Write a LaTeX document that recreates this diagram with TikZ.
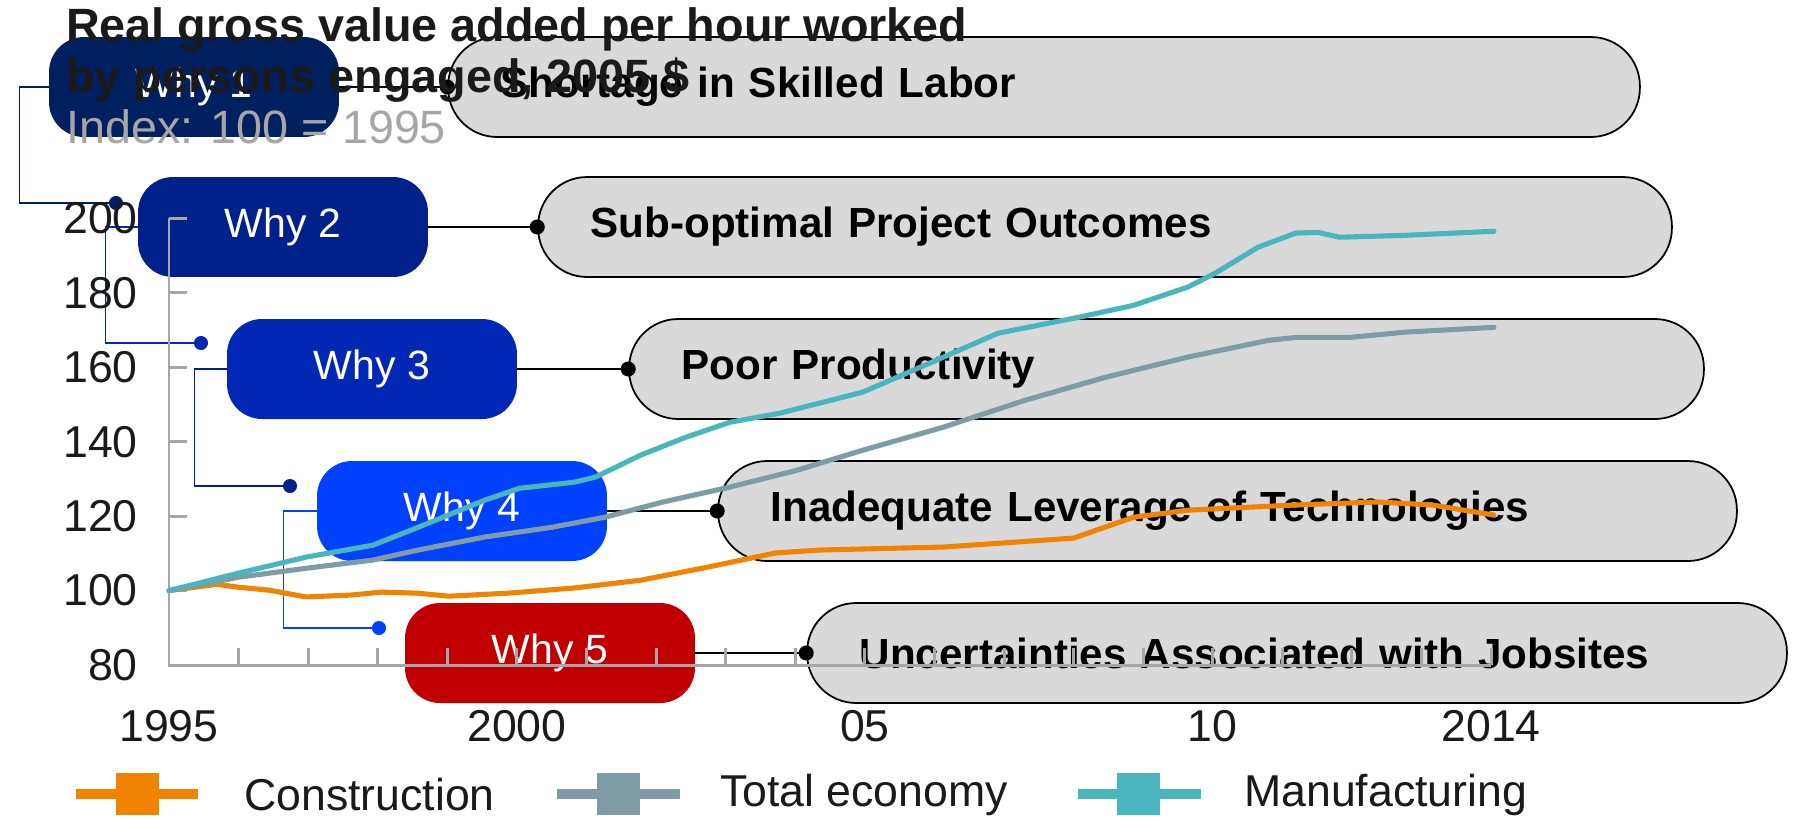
\documentclass[tikz,border=0pt]{standalone}
\usepackage{fontspec}
\setmainfont{Liberation Sans}
\usepackage{tikz}
\usetikzlibrary{arrows.meta}
\definecolor{WhyOne}{HTML}{002060}
\definecolor{WhyTwo}{HTML}{00208A}
\definecolor{WhyThree}{HTML}{0028B4}
\definecolor{WhyFour}{HTML}{0040FF}
\definecolor{WhyFive}{HTML}{C00000}
\definecolor{CauseGray}{HTML}{D9D9D9}
\definecolor{AxisGray}{HTML}{A6A6A6}
\definecolor{InkGray}{HTML}{1A1A1A}
\definecolor{ConstrOrange}{HTML}{F08300}
\definecolor{EconGray}{HTML}{7F9CA6}
\definecolor{ManufTeal}{HTML}{4BB5BD}

\begin{document}
\begin{tikzpicture}[x=0.02cm,y=-0.02cm,
   why/.style={rounded corners=0.7cm,minimum width=5.8cm,minimum height=2cm,
     inner sep=0pt,text=white,font=\fontsize{23.3}{28}\selectfont},
   cause/.style={draw=black,line width=1pt,fill=CauseGray,rounded corners=0.98cm,
     minimum height=2cm,inner xsep=1.05cm,inner ysep=0pt,align=left,
     font=\bfseries\fontsize{24}{29}\selectfont},
   link/.style={line width=1pt,-{Circle[length=0.3cm]},shorten >=-0.15cm},
   elbow/.style={line width=0.8pt,-{Circle[length=0.28cm]},shorten >=-0.14cm},
   axis/.style={AxisGray,line width=1.7pt},
   lbl/.style={text=InkGray,font=\fontsize{25.4}{30}\selectfont},
   series/.style={line width=2.9pt,line join=round,line cap=round}]
   \useasboundingbox (0,0) rectangle (1795,819);

   % why boxes and causes
   \node[why,fill=WhyOne]   (w1) at (194,87)  {Why 1};
   \node[why,fill=WhyTwo]   (w2) at (283,227) {Why 2};
   \node[why,fill=WhyThree] (w3) at (372,369) {Why 3};
   \node[why,fill=WhyFour]  (w4) at (462,511) {Why 4};
   \node[why,fill=WhyFive]  (w5) at (550,653) {Why 5};
   \node[cause,text width=21.74cm] (p1) at (1044,87)   {Shortage in Skilled Labor};
   \node[cause,text width=20.58cm] (p2) at (1105,227)  {Sub-optimal Project Outcomes};
   \node[cause,text width=19.4cm]  (p3) at (1166.5,369) {Poor Productivity};
   \node[cause,text width=18.28cm] (p4) at (1227.5,511) {Inadequate Leverage of Technologies};
   \node[cause,text width=17.5cm]  (p5) at (1297,653)  {Uncertainties Associated with Jobsites};
   \draw[link] (w1.east) -- (p1.west);
   \draw[link] (w2.east) -- (p2.west);
   \draw[link] (w3.east) -- (p3.west);
   \draw[link] (w4.east) -- (p4.west);
   \draw[link] (w5.east) -- (p5.west);

   % elbow connectors
   \coordinate (d2) at (116,203);
   \coordinate (d3) at (201,343);
   \coordinate (d4) at (290,486);
   \coordinate (d5) at (379,628);
   \draw[elbow,WhyOne]   (w1.west) -- ++(-29,0) |- (d2);
   \draw[elbow,WhyThree] (w2.west) -- ++(-32,0) |- (d3);
   \draw[elbow,WhyTwo]   (w3.west) -- ++(-32,0) |- (d4);
   \draw[elbow,WhyFour]  (w4.west) -- ++(-33,0) |- (d5);

   % chart, years from 1995 against index
   \begin{scope}[shift={(169,963)},x=1.392cm,y=0.0745cm]
     \draw[axis] (0,200) -- (0,80) -- (19,80);
     \foreach \v in {100,120,...,200}
       \draw[axis] (0,\v) -- ++(0.36cm,0pt);
     \foreach \t in {1,...,19}
       \draw[axis] (\t,80) -- ++(0pt,0.34cm);
     \foreach \v in {80,100,...,200}
       \node[lbl,anchor=east,xshift=-0.5cm] (y\v) at (0,\v) {\v};
     \node[lbl,yshift=-1.22cm] (x0)  at (0,80)  {1995};
     \node[lbl,yshift=-1.22cm] (x5)  at (5,80)  {2000};
     \node[lbl,yshift=-1.22cm] (x10) at (10,80) {05};
     \node[lbl,yshift=-1.22cm] (x15) at (15,80) {10};
     \node[lbl,yshift=-1.22cm] (x19) at (19,80) {2014};
     \draw[series,ConstrOrange] (0,100) -- (0.69,101.7) -- (1,100.9) -- (1.45,100.1)
       -- (1.97,98.3) -- (2.61,98.8) -- (3.06,99.6) -- (3.58,99.3) -- (4.02,98.5)
       -- (4.86,99.3) -- (5.82,100.7) -- (6.78,102.8) -- (7.74,106.3) -- (8.71,110.1)
       -- (9.35,110.9) -- (11.13,111.7) -- (13,114.1) -- (13.86,119.7) -- (14.64,121.6)
       -- (16.19,123) -- (17.37,123.8) -- (18.15,123) -- (19.04,120.3);
     \draw[series,EconGray] (0,100) -- (1,103.6) -- (1.97,106) -- (2.93,108.2)
       -- (3.58,110.9) -- (4.54,114.4) -- (5.5,117) -- (6.26,119.7) -- (7.1,123.8)
       -- (8.06,127.8) -- (9.02,132.3) -- (9.97,137.7) -- (11.13,143.9) -- (12.3,151.1)
       -- (13.46,157.3) -- (14.64,162.7) -- (15.8,167.2) -- (16.19,168) -- (16.97,168)
       -- (17.76,169.4) -- (19.04,170.7);
     \draw[series,ManufTeal] (0,100) -- (1,104.7) -- (1.97,109) -- (2.93,112.2)
       -- (3.58,117) -- (4.54,124.3) -- (5.04,127.5) -- (5.82,129.1) -- (6.13,130.5)
       -- (6.78,136.4) -- (7.43,141.2) -- (8.06,145.2) -- (8.79,147.7) -- (9.97,153.3)
       -- (11.13,162.7) -- (11.91,169.1) -- (13.07,173.4) -- (13.86,176.6)
       -- (14.64,181.5) -- (15.03,185.2) -- (15.65,192.2) -- (16.19,196) -- (16.51,196.2)
       -- (16.82,194.9) -- (17.76,195.4) -- (19.04,196.5);
   \end{scope}

   % title
   \node[anchor=base west,text=InkGray,font=\bfseries\fontsize{26.6}{30}\selectfont]
     (t1) at (60,41) {Real gross value added per hour worked};
   \node[anchor=base west,text=InkGray,font=\bfseries\fontsize{26.6}{30}\selectfont]
     (t2) at (60,92) {by persons engaged, 2005 \$};
   \node[anchor=base west,text=AxisGray,font=\fontsize{26.6}{30}\selectfont]
     (t3) at (60,143) {Index: 100 = 1995};

   % legend
   \draw[ConstrOrange,line width=0.2cm] (76,794) -- (198,794);
   \fill[ConstrOrange] (116,773) rectangle (159,815);
   \node[lbl,anchor=west] (l1) at (238,795) {Construction};
   \draw[EconGray,line width=0.2cm] (557,794) -- (680,794);
   \fill[EconGray] (597,773) rectangle (640,815);
   \node[lbl,anchor=west] (l2) at (714,795) {Total economy};
   \draw[ManufTeal,line width=0.2cm] (1078,794) -- (1201,794);
   \fill[ManufTeal] (1117,773) rectangle (1160,815);
   \node[lbl,anchor=west] (l3) at (1238,795) {Manufacturing};
\end{tikzpicture}
\end{document}
